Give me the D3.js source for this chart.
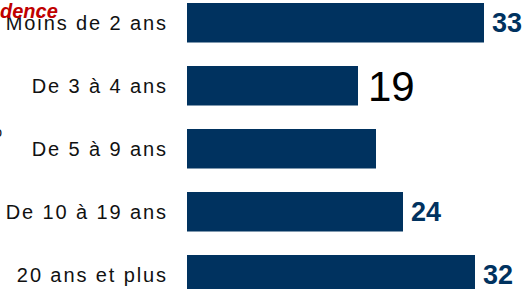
<!DOCTYPE html>
<html><head><meta charset="utf-8">
<script src="https://cdn.jsdelivr.net/npm/d3@7/dist/d3.min.js"></script>
<style>
html,body{margin:0;padding:0;background:#fff;overflow:hidden;}
svg{display:block;}
</style></head>
<body>
<svg id="chart" width="527" height="289"></svg>
<script>
const categories = ["Moins de 2 ans", "De 3 à 4 ans", "De 5 à 9 ans", "De 10 à 19 ans", "20 ans et plus"];
const values = [33, 19, 21, 24, 32];
const valueLabels = ["33", "19", "", "24", "32"];
const titleFragment = "dence";

const svg = d3.select("#chart");
const navy = "#00325f";

const x = d3.scaleLinear().domain([0, d3.max(values)]).range([187, 484]);
const y = d3.scaleBand().domain(categories).range([3, 294.5]).paddingInner(0.373).paddingOuter(0);

svg.selectAll("rect.bar").data(categories).join("rect")
  .attr("class", "bar")
  .attr("x", x(0))
  .attr("y", d => y(d))
  .attr("width", (d, i) => x(values[i]) - x(0))
  .attr("height", y.bandwidth())
  .attr("fill", navy);

// category labels
const yAxis = d3.axisLeft(y).tickSize(0).tickPadding(0);
const g = svg.append("g").attr("transform", "translate(168,0)").call(yAxis);
g.select(".domain").remove();
g.selectAll("text")
  .attr("font-family", "'Liberation Sans', Arial, sans-serif")
  .attr("font-size", 20)
  .attr("letter-spacing", "1.9px")
  .attr("fill", "#111")
  .attr("dy", "0.38em");

// value labels
svg.selectAll("text.val").data(categories).join("text")
  .attr("class", "val")
  .attr("x", (d, i) => x(values[i]) + (i === 1 ? 10 : 8))
  .attr("y", d => y(d) + y.bandwidth() / 2)
  .attr("dy", "0.36em")
  .attr("font-family", "'Liberation Sans', Arial, sans-serif")
  .attr("font-weight", (d, i) => i === 1 ? "normal" : "bold")
  .attr("font-size", (d, i) => i === 1 ? 42 : 27)
  .attr("fill", (d, i) => i === 1 ? "#000" : navy)
  .text((d, i) => valueLabels[i]);

// clipped title fragment
svg.append("text")
  .attr("x", 0).attr("y", 18)
  .attr("font-family", "'Liberation Sans', Arial, sans-serif")
  .attr("font-weight", "bold")
  .attr("font-style", "italic")
  .attr("font-size", 20)
  .attr("fill", "#c00000")
  .text(titleFragment);

// clipped fragment at left edge
svg.append("text")
  .attr("x", -5).attr("y", 137)
  .attr("font-family", "'Liberation Sans', Arial, sans-serif")
  .attr("font-size", 14)
  .attr("fill", "#111")
  .text("ɔ");
</script>
</body></html>
